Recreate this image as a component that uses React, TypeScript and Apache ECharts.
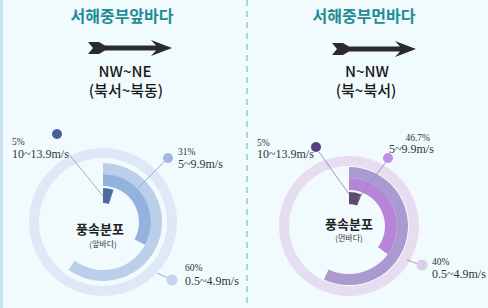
import React, { useEffect, useRef } from 'react';
import * as echarts from 'echarts';

const panelTitles = ['서해중부앞바다', '서해중부먼바다'];
const directionCodes = ['NW~NE', 'N~NW'];
const directionNames = ['(북서~북동)', '(북~북서)'];
const centerTitles = ['풍속분포', '풍속분포'];
const centerSubtitles = ['(앞바다)', '(먼바다)'];
const speedRanges = ['10~13.9m/s', '5~9.9m/s', '0.5~4.9m/s'];
const nearShares = ['5%', '31%', '60%'];
const farShares = ['5%', '46.7%', '40%'];
// drawn arc extent of each bar, in percent of a full turn
const nearArcs = [5, 33, 60];
const farArcs = [6, 35, 57];

const ARROW_D =
  'M0,2 L11,2 L17,5.5 L68,5.5 L63,0 L84,8 L63,16 L68,10.5 L17,10.5 L11,14 L0,14 L5,8 Z';
echarts.graphic.registerShape('dirArrow', echarts.graphic.extendPath(ARROW_D, {}) as any);

const CJK = '"Noto Sans CJK KR", "Noto Sans", sans-serif';
const SERIF = '"Liberation Serif", "DejaVu Serif", serif';

function ring(center: number[], radius: number[], value: number, color: string) {
  return {
    type: 'pie',
    center,
    radius,
    startAngle: 90,
    clockwise: true,
    silent: true,
    animation: false,
    label: { show: false },
    labelLine: { show: false },
    emphasis: { disabled: true },
    itemStyle: { borderWidth: 0 },
    data: [
      { value, itemStyle: { color } },
      { value: 100 - value, itemStyle: { color: 'rgba(0,0,0,0)' } },
    ],
  };
}

function txt(text: string, x: number, y: number, font: string, fill: string, align = 'center', lh?: number) {
  const style: any = {
    text,
    x: 0,
    y: 0,
    font,
    fill,
    align,
    textAlign: align,
    verticalAlign: 'middle',
    textVerticalAlign: 'middle',
  };
  if (lh) style.lineHeight = lh;
  return { type: 'text', z: 20, x, y, style };
}

function dot(x: number, y: number, r: number, fill: string) {
  return { type: 'circle', z: 20, shape: { cx: x, cy: y, r }, style: { fill } };
}

function seg(x1: number, y1: number, x2: number, y2: number, stroke: string) {
  return {
    type: 'line',
    z: 20,
    shape: { x1, y1, x2, y2 },
    style: { stroke, lineWidth: 0.8 },
  };
}

export default function App() {
  const ref = useRef<HTMLDivElement>(null);
  useEffect(() => {
    if (!ref.current) return;
    const chart = echarts.init(ref.current, undefined, { renderer: 'svg' });

    const L = { c: [103, 222], dark: [19, 34], mid: [36, 48], light: [48, 59], track: [64, 74] };
    const R = { c: [349, 226], dark: [22, 34], mid: [36, 48], light: [48, 59], track: [60, 70] };
    const lc = { track: '#dfe8f6', light: '#bccfea', mid: '#94b2de', dark: '#4d6b9e' };
    const rc = { track: '#e7ddf0', light: '#ab9acf', mid: '#b684d9', dark: '#5e4b70' };

    const series: any[] = [
      ring(L.c, L.track, 100, lc.track),
      ring(L.c, L.light, nearArcs[2], lc.light),
      ring(L.c, L.mid, nearArcs[1], lc.mid),
      ring(L.c, L.dark, nearArcs[0], lc.dark),
      ring(R.c, R.track, 100, rc.track),
      ring(R.c, R.light, farArcs[2], rc.light),
      ring(R.c, R.mid, farArcs[1], rc.mid),
      ring(R.c, R.dark, farArcs[0], rc.dark),
    ];

    const titleFont = `bold 16px ${CJK}`;
    const dirFont = `500 15px ${CJK}`;
    const pctFont = `9.5px ${SERIF}`;
    const spdFont = `12px ${SERIF}`;
    const labelColor = '#333333';

    const graphic: any[] = [
      { type: 'rect', z: 5, shape: { x: 0, y: 0, width: 3, height: 308 }, style: { fill: '#c9e4ef' } },
      {
        type: 'line',
        z: 5,
        shape: { x1: 247, y1: 0, x2: 247, y2: 308 },
        style: { stroke: '#a6dad9', lineWidth: 2, lineDash: [6, 5] },
      },
      txt(panelTitles[0], 122, 15, titleFont, '#1f8d96'),
      txt(panelTitles[1], 364, 15, titleFont, '#1f8d96'),
      { type: 'dirArrow', z: 20, x: 88, y: 40, scaleX: 1, scaleY: 1, style: { fill: '#2b2b2b' } },
      { type: 'dirArrow', z: 20, x: 332, y: 41, scaleX: 1, scaleY: 1, style: { fill: '#2b2b2b' } },
      txt(directionCodes[0], 125, 70, dirFont, '#1a1a1a', 'center', 15),
      txt(directionNames[0], 126, 89, dirFont, '#1a1a1a', 'center', 15),
      txt(directionCodes[1], 367, 70, dirFont, '#1a1a1a', 'center', 15),
      txt(directionNames[1], 366, 89, dirFont, '#1a1a1a', 'center', 15),
      txt(centerTitles[0], 100, 228, `bold 13px ${CJK}`, '#222222'),
      txt(centerSubtitles[0], 103, 243, `8px ${CJK}`, '#333333'),
      txt(centerTitles[1], 349, 223, `bold 13px ${CJK}`, '#222222'),
      txt(centerSubtitles[1], 349, 237, `8px ${CJK}`, '#333333'),
      // near-sea labels
      seg(68, 153, 103, 196, '#8d9cb6'),
      seg(165, 161, 138, 188, '#8d9cb6'),
      seg(157, 273, 168, 278, '#8d9cb6'),
      dot(57, 134, 5, '#4a5f95'),
      dot(168, 158, 5, '#a0b8e2'),
      dot(172, 280, 5.5, '#c6d4ee'),
      txt(nearShares[0], 12, 142, pctFont, labelColor, 'left'),
      txt(speedRanges[0], 12, 154, spdFont, labelColor, 'left'),
      txt(nearShares[1], 178, 152, pctFont, labelColor, 'left'),
      txt(speedRanges[1], 178, 164, spdFont, labelColor, 'left'),
      txt(nearShares[2], 185, 268, pctFont, labelColor, 'left'),
      txt(speedRanges[2], 185, 281, spdFont, labelColor, 'left'),
      // far-sea labels
      seg(319, 152, 349, 194, '#8f7fa3'),
      seg(386, 162, 358, 199, '#8f7fa3'),
      seg(407, 260, 418, 264, '#8f7fa3'),
      dot(316, 147, 5, '#5b3f7c'),
      dot(388, 158, 5, '#c08ee0'),
      dot(422, 265, 5.5, '#d9cfe8'),
      txt(farShares[0], 257, 143, pctFont, labelColor, 'left'),
      txt(speedRanges[0], 257, 154, spdFont, labelColor, 'left'),
      txt(farShares[1], 430, 138, pctFont, labelColor, 'right'),
      txt(speedRanges[1], 389, 149, spdFont, labelColor, 'left'),
      txt(farShares[2], 432, 262, pctFont, labelColor, 'left'),
      txt(speedRanges[2], 432, 274, spdFont, labelColor, 'left'),
    ];

    chart.setOption({
      animation: false,
      backgroundColor: '#f1fbfd',
      series,
      graphic: { elements: graphic },
    });
    return () => chart.dispose();
  }, []);

  return (
    <div
      ref={ref}
      style={{ position: 'fixed', left: 0, top: 0, width: 488, height: 308 }}
    />
  );
}
